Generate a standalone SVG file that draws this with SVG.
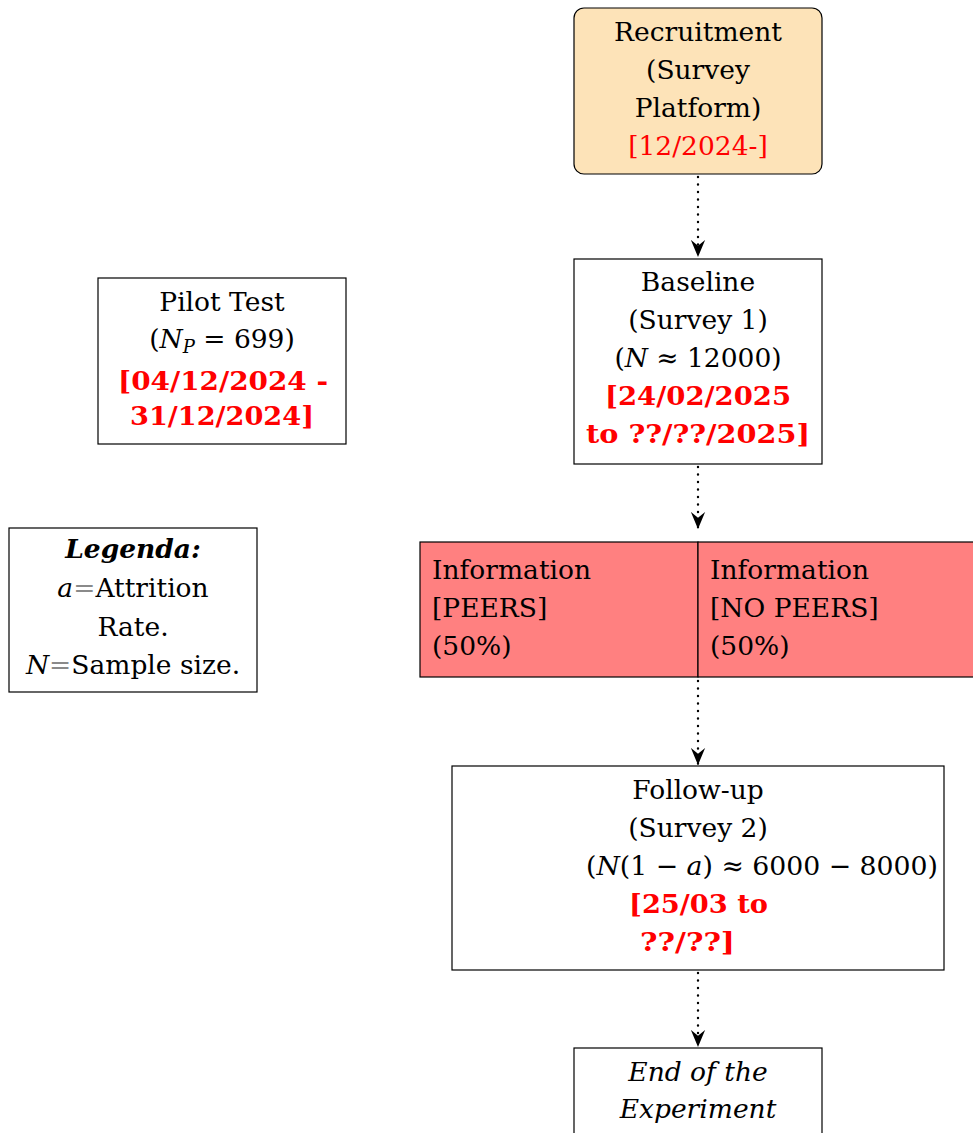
<svg xmlns="http://www.w3.org/2000/svg" width="973" height="1133" viewBox="0 0 973 1133">
<style>
.t{font-family:"DejaVu Serif","Liberation Serif",serif;font-size:26.5px;fill:#000}
.c{text-anchor:middle}
.r{fill:#ff0000}
.b{font-weight:bold}
.i{font-style:italic}
.g{fill:#8a8a8a}
.box{fill:#ffffff;stroke:#000;stroke-width:1.2}
.info{fill:#ff8080;stroke:#000;stroke-width:1.2}
.conn{stroke:#000;stroke-width:2.4;stroke-dasharray:0 7.5;stroke-linecap:round;fill:none}
</style>
<defs>
<marker id="arr" markerUnits="userSpaceOnUse" viewBox="0 0 16 14" refX="16" refY="7" markerWidth="17" markerHeight="15" orient="auto">
<path d="M16,7 L0,0.3 L5.5,7 L0,13.7 Z" fill="#000"/>
</marker>
</defs>
<g id="connectors">
<line class="conn" x1="698" y1="177" x2="698" y2="257" marker-end="url(#arr)"/>
<line class="conn" x1="698" y1="467" x2="698" y2="529" marker-end="url(#arr)"/>
<line class="conn" x1="698" y1="681" x2="698" y2="765" marker-end="url(#arr)"/>
<line class="conn" x1="698" y1="973" x2="698" y2="1047" marker-end="url(#arr)"/>
</g>
<g id="recruitment">
<rect x="574" y="8" width="248" height="166" rx="10" fill="#fde3b8" stroke="#000" stroke-width="1.2"/>
<text class="t c" x="698" y="41">Recruitment</text>
<text class="t c" x="698" y="79">(Survey</text>
<text class="t c" x="698" y="117">Platform)</text>
<text class="t c r" x="698" y="155">[12/2024-]</text>
</g>
<g id="baseline">
<rect class="box" x="574" y="259" width="248" height="205"/>
<text class="t c" x="698" y="291">Baseline</text>
<text class="t c" x="698" y="329">(Survey 1)</text>
<text class="t c" x="698" y="367">(<tspan class="i">N</tspan> ≈ 12000)</text>
<text class="t r b" x="605" y="405" textLength="186" lengthAdjust="spacingAndGlyphs">[24/02/2025</text>
<text class="t r b" x="586" y="443" textLength="224" lengthAdjust="spacingAndGlyphs">to ??/??/2025]</text>
</g>
<g id="pilot">
<rect class="box" x="98" y="278" width="248" height="166"/>
<text class="t c" x="222" y="311">Pilot Test</text>
<text class="t c" x="222" y="348">(<tspan class="i">N</tspan><tspan class="i" font-size="18" dy="5">P</tspan><tspan dy="-5"> = 699)</tspan></text>
<text class="t r b" x="118" y="390" textLength="210" lengthAdjust="spacingAndGlyphs">[04/12/2024 -</text>
<text class="t r b" x="130" y="425" textLength="184" lengthAdjust="spacingAndGlyphs">31/12/2024]</text>
</g>
<g id="legend">
<rect class="box" x="9" y="528" width="248" height="164"/>
<text class="t c b i" x="133" y="558">Legenda:</text>
<text class="t c" x="133" y="597"><tspan class="i">a</tspan><tspan class="g">=</tspan>Attrition</text>
<text class="t c" x="133" y="636">Rate.</text>
<text class="t c" x="133" y="674"><tspan class="i">N</tspan><tspan class="g">=</tspan>Sample size.</text>
</g>
<g id="info-peers">
<rect class="info" x="420" y="542" width="278" height="135"/>
<text class="t" x="432" y="579">Information</text>
<text class="t" x="432" y="617">[PEERS]</text>
<text class="t" x="432" y="655">(50%)</text>
</g>
<g id="info-no-peers">
<rect class="info" x="698" y="542" width="290" height="135"/>
<text class="t" x="710" y="579">Information</text>
<text class="t" x="710" y="617">[NO PEERS]</text>
<text class="t" x="710" y="655">(50%)</text>
</g>
<g id="followup">
<rect class="box" x="452" y="766" width="492" height="204"/>
<text class="t c" x="698" y="799">Follow-up</text>
<text class="t c" x="698" y="837">(Survey 2)</text>
<text class="t" x="586" y="875" textLength="352" lengthAdjust="spacingAndGlyphs">(<tspan class="i">N</tspan>(1 − <tspan class="i">a</tspan>) ≈ 6000 − 8000)</text>
<text class="t r b" x="629" y="913" textLength="139" lengthAdjust="spacingAndGlyphs">[25/03 to</text>
<text class="t r b" x="640" y="951" textLength="95" lengthAdjust="spacingAndGlyphs">??/??]</text>
</g>
<g id="end">
<rect class="box" x="574" y="1048" width="248" height="110"/>
<text class="t c i" x="698" y="1081">End of the</text>
<text class="t c i" x="698" y="1118">Experiment</text>
</g>
</svg>
